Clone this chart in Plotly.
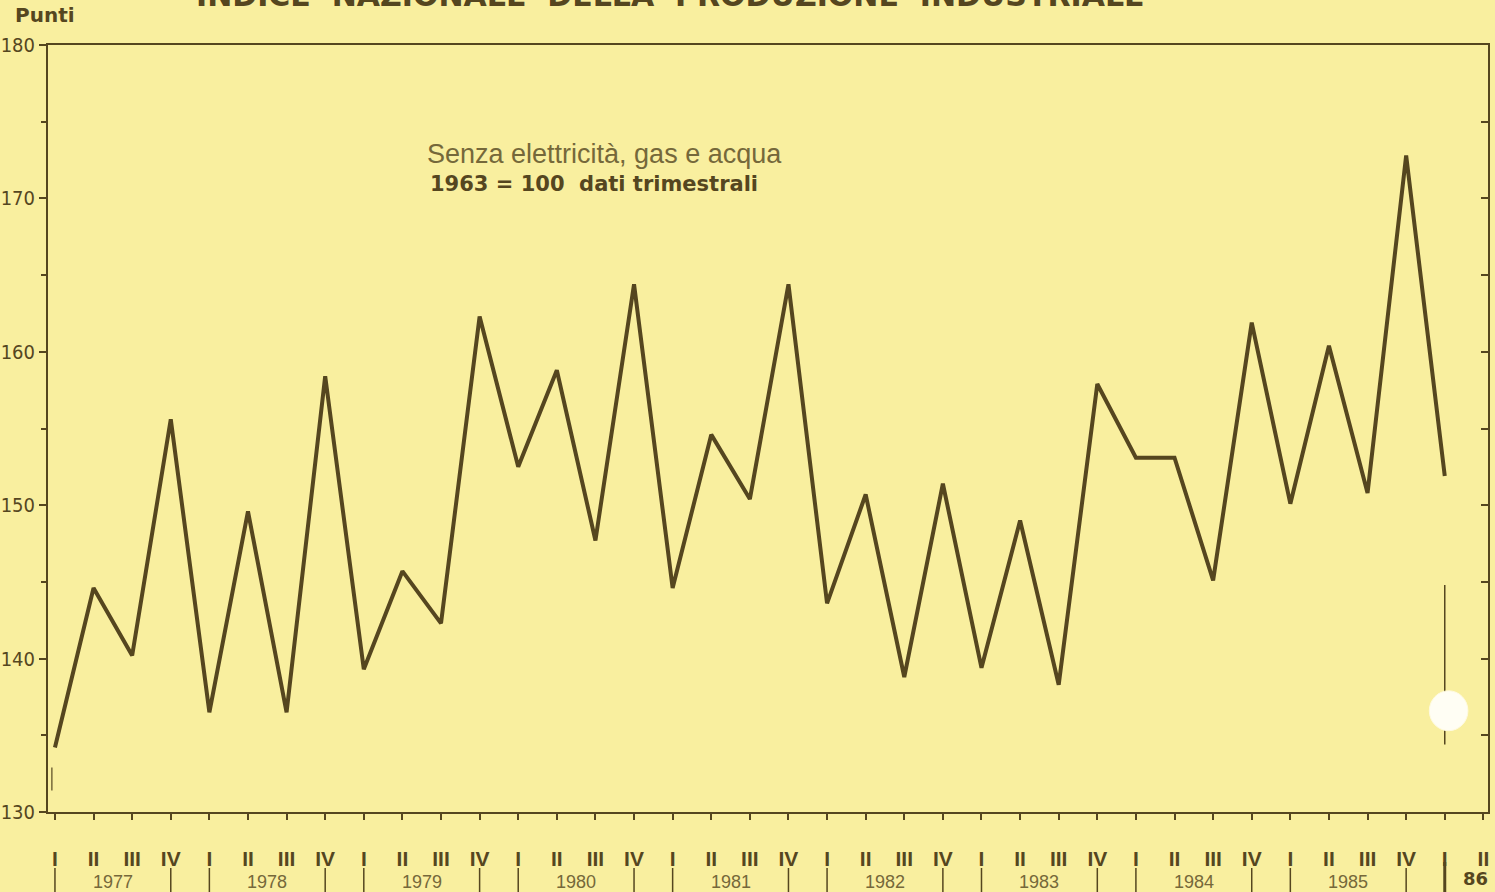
import plotly.graph_objects as go

quarters = ["I", "II", "III", "IV"]
years = ["1977", "1978", "1979", "1980", "1981", "1982", "1983", "1984", "1985"]
last_year_label = "86"
values = [134.2, 144.6, 140.2, 155.6,
          136.5, 149.6, 136.5, 158.4,
          139.3, 145.7, 142.3, 162.3,
          152.5, 158.8, 147.7, 164.4,
          144.6, 154.6, 150.4, 164.4,
          143.6, 150.7, 138.8, 151.4,
          139.4, 149.0, 138.3, 157.9,
          153.1, 153.1, 145.1, 161.9,
          150.1, 160.4, 150.8, 172.8,
          151.9]
y_ticks = [130, 140, 150, 160, 170, 180]

BG = "#f9ef9f"
INK = "#55461f"
SOFT = "#75683a"
L, R, T, B = 48, 7, 45, 80
W, H = 1495, 892
PW, PH = W - L - R, H - T - B


def px(x):
    return (x - L) / PW


def py(y):
    return (H - B - y) / PH


x_idx = list(range(len(values)))
tick_idx = list(range(len(values) + 1))
tick_text = [quarters[i % 4] for i in tick_idx]

fig = go.Figure()
fig.add_trace(go.Scatter(x=x_idx, y=values, mode="lines",
                         line=dict(color=INK, width=4), hoverinfo="skip",
                         showlegend=False))
fig.add_trace(go.Scatter(x=[x_idx[0]], y=[values[0]], yaxis="y2", mode="markers",
                         marker=dict(opacity=0), showlegend=False, hoverinfo="skip"))

fig.update_layout(
    width=W, height=H,
    paper_bgcolor=BG, plot_bgcolor=BG,
    margin=dict(l=L, r=R, t=T, b=B, autoexpand=False),
    xaxis=dict(range=[-0.18, 37.12], tickvals=tick_idx, ticktext=tick_text,
               showgrid=False, zeroline=False, showline=True, linecolor=INK,
               linewidth=2, mirror=True, ticks="outside", ticklen=6,
               tickwidth=2, tickcolor=INK, ticklabelstandoff=21, automargin=False,
               tickfont=dict(family="Liberation Sans, Arial, sans-serif",
                             size=21, color=INK, weight="bold")),
    yaxis=dict(range=[130, 180], tickvals=y_ticks, showgrid=False,
               zeroline=False, showline=True, linecolor=INK, linewidth=2,
               ticks="outside", ticklen=7, tickwidth=2, tickcolor=INK,
               automargin=False, ticklabelstandoff=0,
               minor=dict(dtick=5, tick0=130, ticks="outside", ticklen=5,
                          tickwidth=2, tickcolor=INK),
               tickfont=dict(family="Liberation Sans Narrow, DejaVu Sans Condensed, Arial Narrow, sans-serif",
                             size=20, color=INK)),
    yaxis2=dict(range=[130, 180], overlaying="y", side="right",
                showgrid=False, zeroline=False, showline=True, linecolor=INK,
                linewidth=2, ticks="inside", ticklen=7, tickwidth=2,
                tickcolor=INK, dtick=5, tick0=130, showticklabels=False,
                automargin=False),
)

# year labels and separators
for k, yr in enumerate(years):
    fig.add_annotation(x=4 * k + 1.5, y=py(882), xref="x", yref="paper",
                       text=yr, showarrow=False, yanchor="middle",
                       font=dict(family="Liberation Sans, Arial, sans-serif",
                                 size=18, color=SOFT))
    for q in (0, 3):
        fig.add_shape(type="line", xref="x", yref="paper",
                      x0=4 * k + q, x1=4 * k + q, y0=py(868), y1=py(892),
                      line=dict(color=INK, width=1.5))
fig.add_shape(type="line", xref="x", yref="paper", x0=36, x1=36,
              y0=py(862), y1=py(892), line=dict(color=INK, width=3))
fig.add_annotation(x=36.8, y=py(878), xref="x", yref="paper",
                   text="<b>" + last_year_label + "</b>", showarrow=False,
                   yanchor="middle",
                   font=dict(family="DejaVu Sans, Liberation Sans, sans-serif",
                             size=18, color=INK))

# small vertical marks in plot
fig.add_shape(type="line", xref="x", yref="y", x0=-0.08, x1=-0.08,
              y0=131.4, y1=132.9, line=dict(color=SOFT, width=1.5))
fig.add_shape(type="line", xref="x", yref="y", x0=36, x1=36,
              y0=134.4, y1=144.8, line=dict(color=INK, width=1.5))
fig.add_shape(type="circle", xref="x", yref="y", x0=35.6, x1=36.6,
              y0=135.3, y1=137.9, fillcolor="#fffef4",
              line=dict(color="#fffbe0", width=1))

# texts
fig.add_annotation(x=px(425), y=py(154), xref="paper", yref="paper",
                   text="Senza elettricità, gas e acqua", showarrow=False,
                   xanchor="left", yanchor="middle",
                   font=dict(family="Liberation Sans, Arial, sans-serif", size=27, color=SOFT))
fig.add_annotation(x=px(428), y=py(184), xref="paper", yref="paper",
                   text="<b>1963 = 100  dati trimestrali</b>", showarrow=False,
                   xanchor="left", yanchor="middle",
                   font=dict(family="DejaVu Sans, Liberation Sans, sans-serif", size=21, color=INK))
fig.add_annotation(x=px(13), y=py(15), xref="paper", yref="paper",
                   text="<b>Punti</b>", showarrow=False, xanchor="left", yanchor="middle",
                   font=dict(family="DejaVu Sans, Liberation Sans, sans-serif", size=20, color=INK))
fig.add_annotation(x=px(670), y=py(-4), xref="paper", yref="paper",
                   text="<b>INDICE  NAZIONALE  DELLA  PRODUZIONE  INDUSTRIALE</b>",
                   showarrow=False, xanchor="center", yanchor="middle",
                   font=dict(family="DejaVu Sans, Liberation Sans, sans-serif", size=30, color=INK))

fig.write_html("out.html", config={"displayModeBar": False},
               post_script="document.body.style.margin='0';document.body.style.overflow='hidden';")
